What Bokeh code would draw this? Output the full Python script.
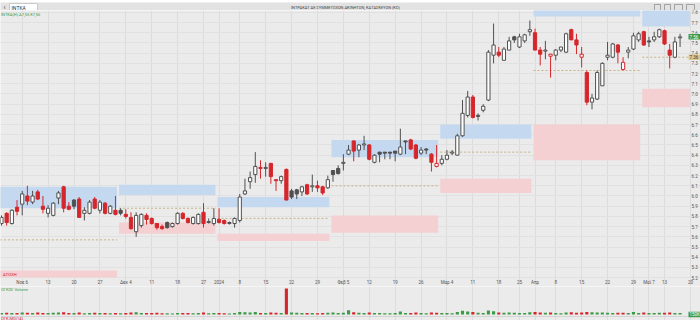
from bokeh.plotting import figure
from bokeh.layouts import column
from bokeh.models import ColumnDataSource, FixedTicker, Range1d
from bokeh.core.properties import value
from bokeh.embed import file_html
from bokeh.resources import INLINE

# ---------------- data ----------------
opens = [5.73, 5.83, 5.73, 5.89, 5.92, 6.00, 5.94, 6.04, 5.90, 5.83,
         5.81, 5.98, 6.09, 5.90, 5.96, 5.97, 5.83, 5.83, 5.97, 5.86,
         5.93, 5.83, 5.86, 5.86, 5.82, 5.79, 5.65, 5.71, 5.81, 5.78,
         5.73, 5.70, 5.74, 5.70, 5.73, 5.83, 5.78, 5.73, 5.73, 5.84,
         5.74, 5.73, 5.77, 5.76, 5.73, 5.73, 5.76, 6.02, 6.14, 6.21,
         6.28, 6.27, 6.32, 6.16, 6.15, 6.26, 6.05, 6.06, 6.04, 6.11,
         6.09, 6.10, 6.09, 6.08, 6.25, 6.27, 6.32, 6.41, 6.54, 6.45,
         6.50, 6.50, 6.33, 6.43, 6.43, 6.43, 6.44, 6.41, 6.54, 6.55,
         6.50, 6.42, 6.46, 6.41, 6.29, 6.32, 6.36, 6.42, 6.40, 6.59,
         6.79, 6.97, 6.79, 6.84, 6.94, 7.38, 7.41, 7.33, 7.43, 7.56,
         7.46, 7.52, 7.61, 7.60, 7.43, 7.42, 7.37, 7.38, 7.43, 7.41,
         7.63, 7.53, 7.36, 7.21, 6.92, 6.95, 7.08, 7.36, 7.36, 7.48,
         7.24, 7.41, 7.44, 7.53, 7.61, 7.52, 7.53, 7.56, 7.62, 7.43,
         7.36, 7.55]
highs = [5.81, 5.84, 5.87, 5.96, 6.05, 6.10, 6.05, 6.06, 6.00, 5.91,
         5.94, 6.05, 6.10, 5.94, 5.97, 5.99, 5.89, 5.96, 5.99, 5.96,
         5.94, 5.91, 6.00, 5.88, 5.87, 5.84, 5.84, 5.83, 5.83, 5.79,
         5.73, 5.72, 5.75, 5.74, 5.84, 5.84, 5.79, 5.80, 5.83, 5.93,
         5.78, 5.88, 5.88, 5.77, 5.75, 5.79, 6.02, 6.17, 6.24, 6.43,
         6.35, 6.33, 6.32, 6.16, 6.20, 6.27, 6.07, 6.07, 6.10, 6.12,
         6.21, 6.15, 6.10, 6.20, 6.25, 6.30, 6.41, 6.50, 6.54, 6.51,
         6.59, 6.51, 6.41, 6.43, 6.43, 6.43, 6.44, 6.66, 6.54, 6.56,
         6.51, 6.48, 6.47, 6.42, 6.50, 6.40, 6.45, 6.45, 6.61, 6.94,
         7.03, 6.99, 6.81, 6.90, 7.43, 7.69, 7.46, 7.46, 7.56, 7.57,
         7.59, 7.59, 7.72, 7.64, 7.46, 7.52, 7.39, 7.44, 7.46, 7.60,
         7.64, 7.59, 7.46, 7.23, 7.00, 7.23, 7.31, 7.51, 7.50, 7.49,
         7.36, 7.46, 7.60, 7.61, 7.62, 7.56, 7.61, 7.64, 7.63, 7.49,
         7.56, 7.59]
lows = [5.71, 5.71, 5.72, 5.81, 5.81, 5.91, 5.92, 5.96, 5.83, 5.79,
        5.80, 5.92, 5.84, 5.86, 5.87, 5.79, 5.76, 5.82, 5.87, 5.83,
        5.82, 5.82, 5.81, 5.81, 5.78, 5.67, 5.60, 5.69, 5.72, 5.72,
        5.67, 5.67, 5.68, 5.69, 5.72, 5.77, 5.73, 5.72, 5.72, 5.69,
        5.73, 5.71, 5.73, 5.72, 5.72, 5.69, 5.74, 6.01, 6.07, 6.13,
        6.17, 6.19, 6.12, 6.05, 6.12, 5.96, 5.97, 5.97, 6.00, 6.01,
        6.04, 6.04, 6.01, 6.07, 6.14, 6.21, 6.25, 6.40, 6.34, 6.38,
        6.45, 6.35, 6.32, 6.33, 6.36, 6.36, 6.34, 6.40, 6.41, 6.45,
        6.36, 6.40, 6.41, 6.24, 6.28, 6.30, 6.35, 6.40, 6.40, 6.58,
        6.77, 6.76, 6.74, 6.82, 6.93, 7.30, 7.36, 7.33, 7.43, 7.50,
        7.45, 7.50, 7.57, 7.43, 7.28, 7.34, 7.16, 7.33, 7.41, 7.40,
        7.53, 7.39, 7.26, 6.89, 6.85, 6.94, 7.08, 7.33, 7.35, 7.30,
        7.23, 7.35, 7.43, 7.51, 7.47, 7.46, 7.51, 7.55, 7.48, 7.25,
        7.35, 7.46]
closes = [5.79, 5.74, 5.86, 5.85, 6.02, 5.95, 6.00, 5.97, 5.87, 5.88,
          5.93, 6.03, 5.88, 5.87, 5.90, 5.79, 5.86, 5.94, 5.88, 5.94,
          5.83, 5.90, 5.82, 5.83, 5.80, 5.68, 5.81, 5.82, 5.77, 5.73,
          5.69, 5.68, 5.69, 5.73, 5.83, 5.78, 5.74, 5.79, 5.82, 5.73,
          5.75, 5.78, 5.74, 5.73, 5.74, 5.78, 5.99, 6.05, 6.18, 6.29,
          6.27, 6.28, 6.19, 6.15, 6.19, 5.96, 5.99, 6.02, 6.09, 6.02,
          6.10, 6.08, 6.03, 6.16, 6.21, 6.22, 6.33, 6.45, 6.44, 6.50,
          6.51, 6.36, 6.40, 6.41, 6.42, 6.42, 6.42, 6.48, 6.53, 6.46,
          6.37, 6.45, 6.45, 6.33, 6.32, 6.36, 6.40, 6.43, 6.59, 6.81,
          6.97, 6.77, 6.78, 6.88, 7.41, 7.48, 7.38, 7.44, 7.52, 7.53,
          7.56, 7.58, 7.63, 7.43, 7.39, 7.43, 7.39, 7.43, 7.46, 7.59,
          7.53, 7.48, 7.39, 6.92, 6.96, 7.21, 7.30, 7.38, 7.49, 7.41,
          7.31, 7.43, 7.57, 7.59, 7.48, 7.51, 7.56, 7.63, 7.49, 7.38,
          7.51, 7.56]
volumes = [150, 180, 140, 160, 210, 170, 150, 190, 160, 140,
           170, 200, 230, 150, 140, 190, 130, 160, 180, 150,
           140, 130, 160, 120, 140, 210, 230, 150, 140, 160,
           170, 130, 120, 110, 160, 150, 140, 130, 150, 190,
           120, 140, 150, 130, 110, 140, 260, 220, 200, 240,
           160, 150, 190, 170, 140, 2600, 210, 170, 150, 160,
           140, 130, 150, 170, 190, 160, 180, 420, 230, 170,
           150, 200, 160, 140, 120, 130, 140, 300, 150, 160,
           190, 140, 130, 200, 180, 150, 140, 130, 240, 380,
           290, 260, 170, 160, 400, 320, 210, 180, 200, 170,
           160, 150, 230, 240, 200, 170, 190, 150, 130, 210,
           220, 180, 200, 260, 230, 210, 190, 170, 160, 180,
           170, 150, 250, 160, 190, 140, 150, 170, 180, 200,
           160, 150]

# monthly zones (session index boundaries) and their levels
zone_start = [-0.5, 22.5, 41.5, 63.5, 84.5, 102.5, 123.5]
zone_end = [22.5, 41.5, 63.5, 84.5, 102.5, 123.5, 133.1]
blue_top = [6.09, 6.11, 5.99, 6.55, 6.70, 7.83, 7.83]
blue_bottom = [5.88, 6.01, 5.89, 6.38, 6.56, 7.76, 7.66]
pink_top = [5.27, 5.74, 5.63, 5.81, 6.17, 6.70, 7.05]
pink_bottom = [5.20, 5.63, 5.56, 5.64, 6.03, 6.35, 6.87]
pivot_level = [5.57, 5.88, 5.78, 6.10, 6.43, 7.23, 7.36]

date_ticks = [4, 9, 14, 19, 24, 29, 34, 39, 42, 46, 51, 56, 61, 66, 71, 76, 81,
              86, 91, 96, 100, 103, 107, 112, 117, 122, 125, 128, 133]
date_labels = ["Νοε 6", "13", "20", "27", "Δεκ 4", "11", "18", "27", "2024", "8",
               "15", "22", "29", "Φεβ 5", "12", "19", "26", "Μαρ 4", "11", "18",
               "25", "Απρ", "8", "15", "22", "29", "Μαϊ 7", "13", "20"]
price_ticks = [5.2, 5.3, 5.4, 5.5, 5.6, 5.7, 5.8, 5.9, 6.0, 6.1, 6.2, 6.3, 6.4,
               6.5, 6.6, 6.7, 6.8, 6.9, 7.0, 7.1, 7.2, 7.3, 7.4, 7.5, 7.6, 7.7, 7.8]

TICKER = "ΙΝΤΚΑ"
TITLE = "ΙΝΤΡΑΚΑΤ ΑΕ ΣΥΜΜΕΤΟΧΩΝ ΑΚΙΝΗΤΩΝ, ΚΑΤΑΣΚΕΥΩΝ (ΚΟ)"

# ---------------- styles / layout constants ----------------
BG = "#ebebeb"
GRID = "#dcdcdc"
RED = "#d5262b"
DARK = "#505050"
BLUE = "#c4d9f0"
PINK = "#f5d0d2"
TAN = "#c0a468"
GREEN = "#3d9a47"
FONT = "Roboto"
W = 700                       # full width, price scale drawn inside the frame
PX = 5.18                     # px per session
X0 = -0.19
Y_LO, Y_HI, PH = 5.113, 7.818, 276
PPX = (Y_HI - Y_LO) / PH      # price per px


def xpix(px):
    """data x of a given screen column (for the scale column on the right)"""
    return X0 + px / PX


n = len(closes)
xs = list(range(n))
prev = [opens[0]] + closes[:-1]
line_col = [RED if c < pc else DARK for c, pc in zip(closes, prev)]
fill_col = ["#ffffff" if c >= o else lc for o, c, lc in zip(opens, closes, line_col)]
src = ColumnDataSource(dict(
    x=xs, o=opens, h=highs, l=lows, c=closes,
    top=[max(o, c) for o, c in zip(opens, closes)],
    bottom=[min(o, c) for o, c in zip(opens, closes)],
    line=line_col, fill=fill_col))

x_rng = Range1d(X0, xpix(W))


def tag(fig, y, half, text, bg, fg):
    fig.quad(left=[xpix(688)], right=[xpix(W)], top=[y + half], bottom=[y - half],
             fill_color=bg, line_color=None)
    fig.text(x=[xpix(689)], y=[y], text=[text], text_font_size="4.5px", text_color=fg,
             text_baseline="middle", text_font=value(FONT))


# ---------------- header ----------------
hdr = figure(width=W, height=10, x_range=Range1d(0, 700), y_range=Range1d(0, 10),
             x_axis_location=None, y_axis_location=None, output_backend="svg",
             toolbar_location=None, min_border=0, background_fill_color="#e2e2e2",
             border_fill_color="#e2e2e2", outline_line_color=None)
hdr.grid.visible = False
hdr.quad(left=[9], right=[37], top=[9], bottom=[1], fill_color="white", line_color="#c8c8c8")
hdr.text(x=[3], y=[5], text=["‹"], text_font_size="7px", text_baseline="middle",
         text_color="#444444", text_font=value(FONT))
hdr.text(x=[11], y=[5], text=[TICKER], text_font_size="5px", text_baseline="middle",
         text_color="#333333", text_font=value(FONT))
hdr.text(x=[345], y=[5], text=[TITLE], text_font_size="4px", text_baseline="middle",
         text_align="center", text_color="#444444", text_font=value(FONT))
hdr.quad(left=[654, 664, 674, 686], right=[660, 670, 682, 694], top=[8, 8, 8, 8],
         bottom=[2, 2, 2, 2], fill_color=None, line_color="#777777", line_width=0.6)

# ---------------- price pane (date-label band at its foot, price scale at right) ----------------
p = figure(width=W, height=PH, x_range=x_rng, y_range=Range1d(Y_LO, Y_HI),
           x_axis_location=None, y_axis_location=None, output_backend="svg",
           toolbar_location=None, min_border=0,
           background_fill_color=BG, border_fill_color=BG, outline_line_color=None)

zl = [s + 0.2 for s in zone_start]
zr = [e - 0.2 for e in zone_end]
p.quad(left=zl, right=zr, top=blue_top, bottom=blue_bottom, fill_color=BLUE, line_color=None)
p.quad(left=zl, right=zr, top=pink_top, bottom=pink_bottom, fill_color=PINK, line_color=None)
p.segment(x0=zl, x1=zr, y0=pivot_level, y1=pivot_level, line_color=TAN,
          line_dash="2 2", line_width=0.8)

p.segment(x0="x", x1="x", y0="h", y1="l", line_color="line", line_width=1, source=src)
p.vbar(x="x", width=0.62, top="top", bottom="bottom", fill_color="fill",
       line_color="line", line_width=1, source=src)

p.xgrid.ticker = FixedTicker(ticks=date_ticks)
p.xgrid.grid_line_color = GRID
p.ygrid.ticker = FixedTicker(ticks=price_ticks)
p.ygrid.grid_line_color = "#e1e1e1"

# price scale labels
p.text(x=[xpix(691)] * len(price_ticks), y=price_ticks,
       text=["%.1f" % t for t in price_ticks], text_font_size="4.5px",
       text_baseline="middle", text_color="#555555", text_font=value(FONT))

# date labels in the band between price and volume panes
p.text(x=date_ticks, y=[5.157] * len(date_ticks), text=date_labels, text_font_size="4.5px",
       text_align="center", text_baseline="middle", text_color="#555555",
       text_font=value(FONT))

p.text(x=[-0.1], y=[7.78], text=[TICKER + "(Η)  Α7,55  Κ7,56"],
       text_font_size="4px", text_color=GREEN, text_baseline="middle", text_font=value(FONT))
p.text(x=[0.3], y=[5.235], text=["ΑΠΟΧΗ"], text_font_size="4px", text_color=RED,
       text_baseline="middle", text_font=value(FONT))

tag(p, closes[-1], 2.8 * PPX, "%.2f" % closes[-1], GREEN, "white")
tag(p, pivot_level[-1], 2.8 * PPX, "%.2f" % pivot_level[-1], "#dccb94", "#333333")

# ---------------- volume pane ----------------
vmax = max(volumes)
VH = 34
v_lo, v_hi = -0.231 * vmax, 1.077 * vmax
VPX = (v_hi - v_lo) / VH
vol_col = [RED if c < pc else GREEN for c, pc in zip(closes, prev)]
vsrc = ColumnDataSource(dict(x=xs, v=volumes, col=vol_col))
v = figure(width=W, height=VH, x_range=x_rng, y_range=Range1d(v_lo, v_hi),
           x_axis_location=None, y_axis_location=None, output_backend="svg",
           toolbar_location=None, min_border=0,
           background_fill_color=BG, border_fill_color=BG, outline_line_color=None)
v.vbar(x="x", width=0.6, top="v", bottom=0, fill_color="col", line_color=None, source=vsrc)
v.xgrid.ticker = FixedTicker(ticks=date_ticks)
v.xgrid.grid_line_color = GRID
v.ygrid.grid_line_color = None
v.text(x=[-0.1], y=[vmax * 0.98], text=["ΟΓΚΟΣ Volume"], text_font_size="4px",
       text_color=GREEN, text_baseline="middle", text_font=value(FONT))
v.segment(x0=[x_rng.start], x1=[x_rng.end], y0=[-0.077 * vmax], y1=[-0.077 * vmax],
          line_color="#d4d4d4", line_width=1)
v.text(x=[-0.1], y=[-0.154 * vmax], text=["ΟΓΚ.ΜΟ(14)"], text_font_size="4px",
       text_color=RED, text_baseline="middle", text_font=value(FONT))
tag(v, 0, 2.8 * VPX, "%dK" % volumes[-1], GREEN, "white")

layout = column(hdr, p, v, spacing=0)
open("out.html", "w").write(file_html(layout, INLINE))
